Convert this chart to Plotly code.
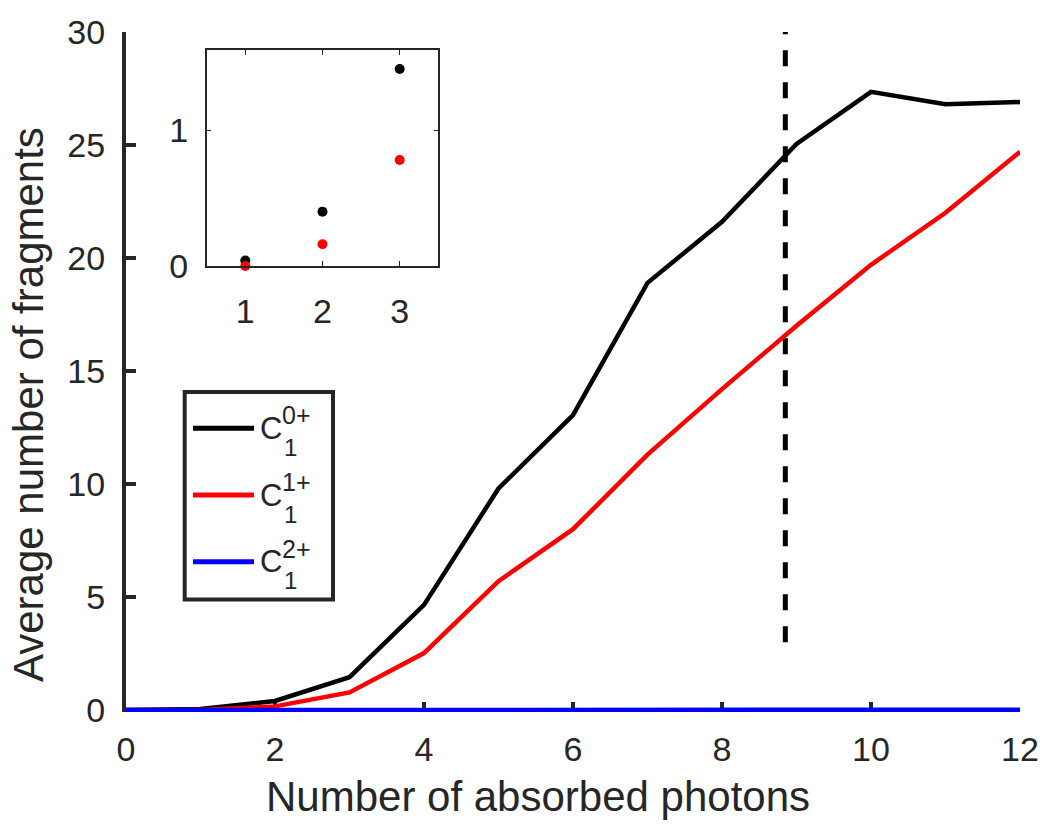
import plotly.graph_objects as go

# ---------------- data ----------------
photons = [0, 1, 2, 3, 4, 5, 6, 7, 8, 9, 10, 11, 12]
c1_0plus = [0.0, 0.04, 0.40, 1.45, 4.65, 9.80, 13.05, 18.90, 21.60, 25.05, 27.35, 26.80, 26.90]
c1_1plus = [0.0, 0.0, 0.16, 0.78, 2.52, 5.70, 8.00, 11.30, 14.20, 17.00, 19.70, 22.00, 24.70]
c1_2plus = [0.0, 0.0, 0.0, 0.0, 0.0, 0.0, 0.0, 0.0, 0.0, 0.0, 0.03, 0.0, 0.01]
series_names = ["0+", "1+", "2+"]
series_colors = ["#000000", "#ff0000", "#0000ff"]

threshold_x = [8.85, 8.85]
threshold_y = [3.0, 30.0]

inset_x = [1, 2, 3]
inset_c0 = c1_0plus[1:4]
inset_c1 = c1_1plus[1:4]

x_ticks = [0, 2, 4, 6, 8, 10, 12]
y_ticks = [0, 5, 10, 15, 20, 25, 30]
inset_xticks = [1, 2, 3]
inset_yticks = [0, 1]

# ---------------- layout geometry (pixels) ----------------
W, H = 1040, 824
L, R, T, B = 126, 20, 32, 112
PW, PH = W - L - R, H - T - B


def px(x):
    return (x - L) / PW


def py(y):
    return (H - B - y) / PH


FONT = "Liberation Sans, Arial, Helvetica, sans-serif"
AX = "#262626"

fig = go.Figure()

fig.add_trace(go.Scatter(x=threshold_x, y=threshold_y, mode="lines",
                         line=dict(color="#000000", width=5, dash="16px,16px"),
                         showlegend=False, hoverinfo="skip"))
for ys, c in zip([c1_0plus, c1_1plus, c1_2plus], series_colors):
    fig.add_trace(go.Scatter(x=photons, y=ys, mode="lines",
                             line=dict(color=c, width=4.5),
                             showlegend=False))

# inset
fig.add_trace(go.Scatter(x=inset_x, y=inset_c0, mode="markers", xaxis="x2", yaxis="y2",
                         marker=dict(color="#000000", size=10), cliponaxis=False,
                         showlegend=False))
fig.add_trace(go.Scatter(x=inset_x, y=inset_c1, mode="markers", xaxis="x2", yaxis="y2",
                         marker=dict(color="#ff0000", size=10), cliponaxis=False,
                         showlegend=False))

ymin = -2 * 30 / 678

fig.update_layout(
    width=W, height=H,
    margin=dict(l=L, r=R, t=T, b=B, autoexpand=False),
    paper_bgcolor="white", plot_bgcolor="white",
    font=dict(family=FONT, size=34, color=AX),
    showlegend=False,
    xaxis=dict(range=[0, 12], tickvals=x_ticks, ticks="inside", ticklen=10, tickwidth=4,
               tickcolor=AX, showline=False, showgrid=False, zeroline=False, automargin=False,
               layer="below traces", tickfont=dict(size=34, color=AX), ticklabelstandoff=14),
    yaxis=dict(range=[ymin, 30], tickvals=y_ticks, ticks="inside", ticklen=10, tickwidth=4,
               tickcolor=AX, showline=True, linewidth=4, linecolor=AX, showgrid=False,
               zeroline=False, layer="below traces", tickfont=dict(size=34, color=AX),
               ticklabelstandoff=10, automargin=False),
    xaxis2=dict(domain=[px(206.7), px(438.3)], anchor="y2", range=[0.5, 3.5],
                tickvals=inset_xticks, ticks="inside", ticklen=5, tickwidth=1.2, tickcolor=AX,
                showline=True, mirror="ticks", linewidth=1.5, linecolor=AX, showgrid=False,
                zeroline=False, tickfont=dict(size=34, color=AX), ticklabelstandoff=14,
                automargin=False),
    yaxis2=dict(domain=[py(266), py(50)], anchor="x2", range=[0, 1.59],
                tickvals=inset_yticks, ticks="inside", ticklen=5, tickwidth=1.2, tickcolor=AX,
                showline=True, mirror="ticks", linewidth=1.5, linecolor=AX, showgrid=False,
                zeroline=False, tickfont=dict(size=34, color=AX), ticklabelstandoff=10,
                automargin=False),
)

# axis titles
fig.add_annotation(text="Number of absorbed photons", xref="paper", yref="paper",
                   x=px(538), y=py(796), xanchor="center", yanchor="middle", showarrow=False,
                   font=dict(size=42, color=AX, family=FONT))
fig.add_annotation(text="Average number of fragments", xref="paper", yref="paper",
                   x=px(28), y=py(405), xanchor="center", yanchor="middle", showarrow=False,
                   textangle=-90, font=dict(size=42, color=AX, family=FONT))

# manual legend with stacked sub/superscripts
fig.add_shape(type="rect", xref="paper", yref="paper",
              x0=px(184.7), x1=px(333), y0=py(392), y1=py(599.5),
              line=dict(color=AX, width=4), fillcolor="white", layer="above")
entry_y = [428.3, 495.0, 561.7]
for name, c, ey in zip(series_names, series_colors, entry_y):
    fig.add_shape(type="line", xref="paper", yref="paper",
                  x0=px(193), x1=px(254), y0=py(ey), y1=py(ey),
                  line=dict(color=c, width=5), layer="above")
    fig.add_annotation(text="C", xref="paper", yref="paper", x=px(271), y=py(ey),
                       xanchor="center", yanchor="middle", showarrow=False,
                       font=dict(size=31, color=AX, family=FONT))
    fig.add_annotation(text=name, xref="paper", yref="paper", x=px(280), y=py(ey - 13),
                       xanchor="left", yanchor="middle", showarrow=False,
                       font=dict(size=25, color=AX, family=FONT))
    fig.add_annotation(text="1", xref="paper", yref="paper", x=px(282), y=py(ey + 19),
                       xanchor="left", yanchor="middle", showarrow=False,
                       font=dict(size=24, color=AX, family=FONT))

fig.write_html("out.html")
